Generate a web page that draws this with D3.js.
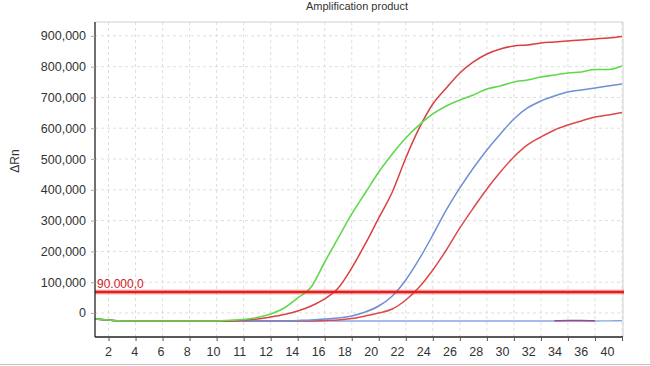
<!DOCTYPE html>
<html>
<head>
<meta charset="utf-8">
<script src="https://cdn.jsdelivr.net/npm/d3@7"></script>
<style>
  html, body { margin: 0; padding: 0; background: #fff; }
  svg { display: block; }
  text { font-family: "Liberation Sans", Arial, sans-serif; }
</style>
</head>
<body>
<svg id="chart" width="650" height="366"></svg>
<script>
// ---- data ----
const cycles = d3.range(1, 41);
const tickCycles = d3.range(2, 41, 2);
const xTickLabels = ["2","4","6","8","10","11","12","14","16","18","20","22","24","26","28","30","32","34","36","40"];
const yTicks = [0, 100000, 200000, 300000, 400000, 500000, 600000, 700000, 800000, 900000];
const threshold = 68000;
const thresholdLabel = "90.000,0";
const title = "Amplification product";
const yLabel = "ΔRn";

// values in thousands (ΔRn / 1000), one per cycle 1..40
const greenK = [-19.5,-22.7,-26,-26,-26,-26,-26,-26,-26,-26,
  -23.7,-21.1,-14.6,-3.2,16.2,48.7,84.4,165.6,243.6,321.6,
  389.8,458,516.4,568.4,610.6,646.4,672.3,691.8,708.1,727.6,
  737.3,750.3,756.8,766.5,773,779.5,782.8,790.9,790.9,802.3];
const red1K = [-19.5,-22.7,-26,-26,-26,-26,-26,-26,-26,-26,
  -26,-22.7,-19.5,-13,-4.8,6.5,22.7,45.5,81,146.2,
  224.1,308.6,393,503.4,600.9,678.8,730.8,779.5,815.2,841.2,
  857.5,867.2,870.5,877,880.2,883.5,886.7,890,893.2,898.1];
const blueK = [-19.5,-22.7,-26,-26,-26,-26,-26,-26,-26,-26,
  -26,-26,-26,-26,-26,-24.4,-22.7,-19.5,-16.2,-9.7,
  3.2,22.7,55.2,107.2,175.4,253.3,334.5,406,471,529.4,
  581.4,630.1,665.8,688.6,704.8,717.8,724.3,730.8,737.3,743.8];
const red2K = [-19.5,-22.7,-26,-26,-26,-26,-26,-26,-26,-26,
  -26,-26,-26,-26,-26,-26,-26,-24.4,-22.7,-17.9,
  -9.7,0,13,42.2,84.4,139.7,204.6,276.1,341,402.8,
  458,506.7,545.7,571.6,594.4,610.6,623.6,636.6,643.1,651.2];
const ntcK = [-19.5,-22.7,-26,-26,-26,-26,-26,-26,-26,-26,
  -26,-26,-26,-26,-26,-26,-26,-26,-26,-26,
  -26,-26,-26,-26,-26,-26,-26,-26,-26,-26,
  -26,-26,-26,-26,-26,-26,-26,-26,-25.5,-25];
const ntc2K = [null,null,null,null,null,null,null,null,null,null,
  null,null,null,null,null,null,null,null,null,null,
  null,null,null,null,null,null,null,null,null,null,
  null,null,null,null,-25.5,-24.5,-24.5,-25.5,null,null];

const series = [
  { name: "ntc", values: ntcK, color: "#8aa5e6", width: 1.4 },
  { name: "ntc2", values: ntc2K, color: "#9a4a86", width: 1.5 },
  { name: "red2", values: red2K, color: "#dc4a48", width: 1.5 },
  { name: "blue", values: blueK, color: "#6f8fd6", width: 1.5 },
  { name: "red1", values: red1K, color: "#d9403f", width: 1.5 },
  { name: "green", values: greenK, color: "#62d84e", width: 1.6 }
];

// ---- layout ----
const svg = d3.select("#chart");
const padL = 95, padR = 622, padT = 22, padB = 337;

const x = d3.scaleLinear().domain([1, 40]).range([padL, padR]);
const y = d3.scaleLinear().domain([-78000, 945000]).range([padB, padT]);
const xl = d3.scalePoint().domain(xTickLabels).range([108, 607]);

// gridlines
const grid = svg.append("g");
grid.selectAll("line.v").data(tickCycles).join("line")
  .attr("class", "v")
  .attr("x1", d => x(d)).attr("x2", d => x(d))
  .attr("y1", padT).attr("y2", padB)
  .attr("stroke", "#dedede").attr("stroke-dasharray", "3,3");
grid.selectAll("line.h").data(yTicks).join("line")
  .attr("class", "h")
  .attr("x1", padL).attr("x2", padR + 1)
  .attr("y1", d => y(d)).attr("y2", d => y(d))
  .attr("stroke", "#dedede").attr("stroke-dasharray", "3,3");

// plot border (top/right)
svg.append("path")
  .attr("d", `M${padL},${padT}H${padR + 1}V${padB}`)
  .attr("fill", "none").attr("stroke", "#cfcfcf");

// lines
const line = d3.line()
  .defined(d => d.v !== null)
  .x(d => x(d.c)).y(d => y(d.v * 1000))
  .curve(d3.curveMonotoneX);

svg.append("g").selectAll("path").data(series).join("path")
  .attr("d", s => line(cycles.map((c, i) => ({ c, v: s.values[i] }))))
  .attr("fill", "none")
  .attr("stroke", s => s.color)
  .attr("stroke-width", s => s.width)
  .attr("stroke-linejoin", "round");

// threshold
svg.append("line")
  .attr("x1", padL).attr("x2", padR + 2)
  .attr("y1", y(threshold)).attr("y2", y(threshold))
  .attr("stroke", "rgba(235,60,60,0.35)").attr("stroke-width", 5);
svg.append("line")
  .attr("x1", padL).attr("x2", padR + 2)
  .attr("y1", y(threshold)).attr("y2", y(threshold))
  .attr("stroke", "#e51d1d").attr("stroke-width", 2.6);
svg.append("text")
  .attr("x", padL + 2).attr("y", y(threshold) - 4)
  .attr("fill", "#cc2424").attr("font-size", 12)
  .text(thresholdLabel);

// axes
const yAxis = svg.append("g")
  .attr("transform", `translate(${padL},0)`)
  .call(d3.axisLeft(y).tickValues(yTicks).tickFormat(d3.format(",")).tickSize(4).tickPadding(5));
yAxis.select(".domain").attr("d", `M0,${padT}V${padB}`).attr("stroke", "#222").attr("stroke-width", 1.3);
yAxis.selectAll(".tick line").attr("stroke", "#aaa");
yAxis.selectAll(".tick text").attr("font-size", 12.5).attr("fill", "#333")
  .attr("font-family", "'Liberation Sans', Arial, sans-serif");

const xAxis = svg.append("g")
  .attr("transform", `translate(0,${padB})`)
  .call(d3.axisBottom(x).tickValues(tickCycles).tickFormat("").tickSize(4));
xAxis.select(".domain").attr("d", `M${padL},0H${padR + 1}`).attr("stroke", "#222").attr("stroke-width", 1.3);
xAxis.selectAll(".tick line").attr("stroke", "#555");

const xLab = svg.append("g")
  .attr("transform", `translate(0,${padB})`)
  .call(d3.axisBottom(xl).tickSize(0).tickPadding(10));
xLab.select(".domain").remove();
xLab.selectAll(".tick text").attr("font-size", 12.5).attr("fill", "#333")
  .attr("font-family", "'Liberation Sans', Arial, sans-serif");

// y label
svg.append("text")
  .attr("transform", "translate(19,161) rotate(-90)")
  .attr("text-anchor", "middle")
  .attr("font-size", 12).attr("fill", "#333")
  .text(yLabel);

// title
svg.append("text")
  .attr("x", 357).attr("y", 10)
  .attr("text-anchor", "middle")
  .attr("font-size", 11).attr("fill", "#333")
  .text(title);

// bottom separator
svg.append("line")
  .attr("x1", 0).attr("x2", 650).attr("y1", 364.5).attr("y2", 364.5)
  .attr("stroke", "#c4c4c4");
</script>
</body>
</html>
